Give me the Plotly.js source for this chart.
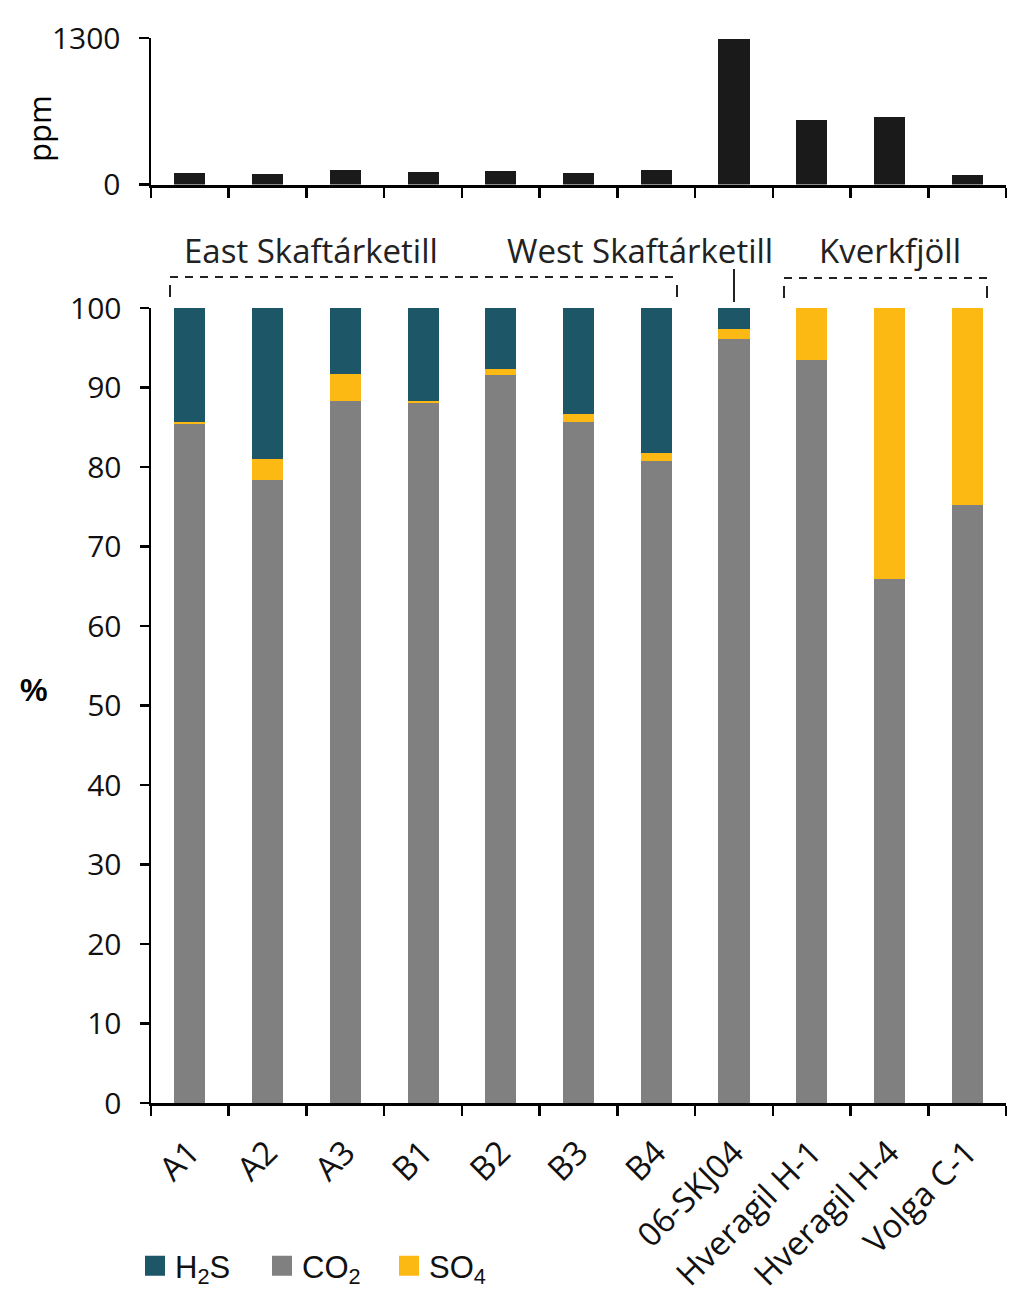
<!DOCTYPE html>
<html>
<head>
<meta charset="utf-8">
<script src="https://cdn.plot.ly/plotly-3.0.1.min.js"></script>
<style>
html,body{margin:0;padding:0;background:#fff;}
#chart{width:1024px;height:1306px;}
</style>
</head>
<body>
<div id="chart"></div>
<script>
// ---- data ----
const samples = ["A1","A2","A3","B1","B2","B3","B4","06-SKJ04","Hveragil H-1","Hveragil H-4","Volga C-1"];
const ppm = [104, 94, 130, 112, 124, 106, 130, 1295, 573, 597, 85];
const co2 = [85.4, 78.4, 88.3, 88.0, 91.6, 85.7, 80.8, 96.1, 93.4, 65.9, 75.2];
const so4 = [0.3, 2.6, 3.4, 0.3, 0.7, 1.0, 1.0, 1.3, 6.6, 34.1, 24.8];
const h2s = [14.3, 19.0, 8.3, 11.7, 7.7, 13.3, 18.2, 2.6, 0, 0, 0];
const pctTicks = [0,10,20,30,40,50,60,70,80,90,100];
const ppmTicks = [0,1300];
const seriesNames = ["H<sub>2</sub>S","CO<sub>2</sub>","SO<sub>4</sub>"];
const groupLabels = ["East Skaftárketill","West Skaftárketill","Kverkfjöll"];

const C_H2S = "#1d5667", C_CO2 = "#808080", C_SO4 = "#fdb913";
const FONT = "Open Sans, Arial, sans-serif";
const ARIAL = "Liberation Sans, Arial, sans-serif";

// pixel helpers (plot area: x 151..1006, y 38..1103)
const L = 151, R = 1006, T = 38, B = 1103;
const px = x => (x - L) / (R - L);
const py = y => (B - y) / (B - T);

const traces = [
  {type:"bar", x:samples, y:co2, name:seriesNames[1], marker:{color:C_CO2, line:{width:0}}, showlegend:false, xaxis:"x", yaxis:"y"},
  {type:"bar", x:samples, y:so4, name:seriesNames[2], marker:{color:C_SO4, line:{width:0}}, showlegend:false, xaxis:"x", yaxis:"y"},
  {type:"bar", x:samples, y:h2s, name:seriesNames[0], marker:{color:C_H2S, line:{width:0}}, showlegend:false, xaxis:"x", yaxis:"y"},
  {type:"bar", x:samples, y:ppm, name:"ppm", marker:{color:"#1a1a1a", line:{width:0}}, showlegend:false, xaxis:"x2", yaxis:"y2"},
  // legend entries
  {type:"scatter", mode:"markers", x:[null], y:[null], name:seriesNames[0], marker:{symbol:"square", size:16, color:C_H2S, line:{color:C_H2S, width:4}}, xaxis:"x", yaxis:"y"},
  {type:"scatter", mode:"markers", x:[null], y:[null], name:seriesNames[1], marker:{symbol:"square", size:16, color:C_CO2, line:{color:C_CO2, width:4}}, xaxis:"x", yaxis:"y"},
  {type:"scatter", mode:"markers", x:[null], y:[null], name:seriesNames[2], marker:{symbol:"square", size:16, color:C_SO4, line:{color:C_SO4, width:4}}, xaxis:"x", yaxis:"y"}
];

const dash = {color:"#222", width:2, dash:"8px,7px"};
const solid = {color:"#222", width:2};
const shapes = [
  {type:"line", xref:"paper", yref:"paper", x0:px(170), x1:px(677), y0:py(277), y1:py(277), line:dash},
  {type:"line", xref:"paper", yref:"paper", x0:px(170), x1:px(170), y0:py(285), y1:py(297), line:solid},
  {type:"line", xref:"paper", yref:"paper", x0:px(677), x1:px(677), y0:py(285), y1:py(297), line:solid},
  {type:"line", xref:"paper", yref:"paper", x0:px(734), x1:px(734), y0:py(269), y1:py(302), line:solid},
  {type:"line", xref:"paper", yref:"paper", x0:px(784), x1:px(987), y0:py(278), y1:py(278), line:dash},
  {type:"line", xref:"paper", yref:"paper", x0:px(784), x1:px(784), y0:py(286), y1:py(298), line:solid},
  {type:"line", xref:"paper", yref:"paper", x0:px(987), x1:px(987), y0:py(286), y1:py(298), line:solid}
];

const annFont = {family:FONT, size:33, color:"#222"};
const annotations = [
  {xref:"paper", yref:"paper", x:px(311), y:py(250), text:groupLabels[0], showarrow:false, font:annFont, xanchor:"center", yanchor:"middle"},
  {xref:"paper", yref:"paper", x:px(640), y:py(250), text:groupLabels[1], showarrow:false, font:annFont, xanchor:"center", yanchor:"middle"},
  {xref:"paper", yref:"paper", x:px(890), y:py(250), text:groupLabels[2], showarrow:false, font:annFont, xanchor:"center", yanchor:"middle"},
  {xref:"paper", yref:"paper", x:px(34), y:py(690), text:"%", showarrow:false, font:{family:ARIAL, size:31, color:"#000", weight:"bold"}, xanchor:"center", yanchor:"middle"},
  {xref:"paper", yref:"paper", x:px(39), y:py(128), text:"ppm", textangle:-90, showarrow:false, font:{family:FONT, size:31, color:"#000"}, xanchor:"center", yanchor:"middle"}
];

const layout = {
  width:1024, height:1306,
  margin:{l:L, r:1024-R, t:T, b:1306-B, pad:0},
  paper_bgcolor:"#fff", plot_bgcolor:"#fff",
  barmode:"stack", bargap:0.6,
  font:{family:FONT, color:"#000"},
  xaxis:{
    type:"category", range:[-0.5,10.5], anchor:"y", domain:[0,1],
    tickson:"boundaries", ticks:"outside", ticklen:10, tickwidth:2.5, tickcolor:"#000",
    showline:true, linewidth:3, linecolor:"#000", showgrid:false, zeroline:false,
    tickangle:-45, tickfont:{family:FONT, size:33, color:"#111"}, ticklabelstandoff:14
  },
  yaxis:{
    domain:[0, py(308)], range:[0,100], anchor:"x",
    tickmode:"array", tickvals:pctTicks, ticktext:pctTicks.map(String),
    ticks:"outside", ticklen:9, tickwidth:2.5, tickcolor:"#000",
    showline:true, linewidth:2.5, linecolor:"#000", showgrid:false, zeroline:false,
    tickfont:{family:FONT, size:30, color:"#111"}, ticklabelstandoff:12
  },
  xaxis2:{
    type:"category", range:[-0.5,10.5], anchor:"y2", domain:[0,1], matches:"x",
    tickson:"boundaries", ticks:"outside", ticklen:10, tickwidth:2.5, tickcolor:"#000",
    showline:true, linewidth:3, linecolor:"#000", showgrid:false, zeroline:false,
    showticklabels:false
  },
  yaxis2:{
    domain:[py(184.5), 1], range:[0,1300], anchor:"x2",
    tickmode:"array", tickvals:ppmTicks, ticktext:ppmTicks.map(String),
    ticks:"outside", ticklen:10, tickwidth:2.5, tickcolor:"#000",
    showline:true, linewidth:2.5, linecolor:"#000", showgrid:false, zeroline:false,
    tickfont:{family:FONT, size:30, color:"#111"}, ticklabelstandoff:12
  },
  showlegend:true,
  legend:{
    orientation:"h", x:px(135), y:py(1266), xanchor:"left", yanchor:"middle",
    traceorder:"normal",
    font:{family:ARIAL, size:31, color:"#111"}, bgcolor:"rgba(0,0,0,0)",
    itemwidth:30, itemsizing:"trace", entrywidth:82, entrywidthmode:"pixels", tracegroupgap:0
  },
  shapes:shapes,
  annotations:annotations
};

Plotly.newPlot("chart", traces, layout, {staticPlot:true, displayModeBar:false});
</script>
</body>
</html>
